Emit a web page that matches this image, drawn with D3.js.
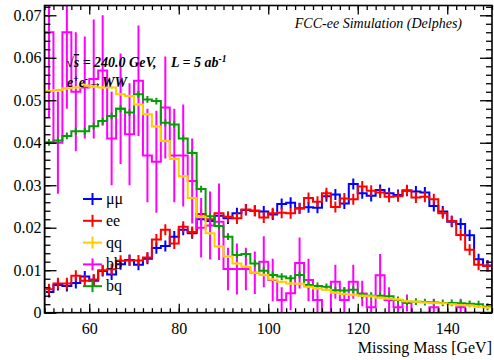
<!DOCTYPE html>
<html>
<head>
<meta charset="utf-8">
<script src="https://cdn.jsdelivr.net/npm/d3@7"></script>
<style>
  html, body { margin: 0; padding: 0; background: #fff; }
  svg { display: block; font-family: "Liberation Serif", "Times New Roman", serif; }
</style>
</head>
<body>
<div id="chart"></div>
<script>
// missing mass histograms, 2 GeV bins from 50 to 150
const binLow = [50, 52, 54, 56, 58, 60, 62, 64, 66, 68, 70, 72, 74, 76, 78, 80, 82, 84, 86, 88,
  90, 92, 94, 96, 98, 100, 102, 104, 106, 108, 110, 112, 114, 116, 118, 120, 122, 124, 126, 128,
  130, 132, 134, 136, 138, 140, 142, 144, 146, 148];
const BIN_WIDTH = 2;

const muMu = [0.0049, 0.0065, 0.0063, 0.0070, 0.0085, 0.0075, 0.0098, 0.0090, 0.0114, 0.0124,
  0.0113, 0.0127, 0.0152, 0.0157, 0.0179, 0.0195, 0.0187, 0.0220, 0.0216, 0.0228,
  0.0222, 0.0234, 0.0242, 0.0240, 0.0238, 0.0231, 0.0256, 0.0259, 0.0246, 0.0248,
  0.0247, 0.0274, 0.0278, 0.0257, 0.0303, 0.0281, 0.0275, 0.0289, 0.0281, 0.0277,
  0.0287, 0.0285, 0.0283, 0.0251, 0.0238, 0.0214, 0.0209, 0.0182, 0.0126, 0.0111];
const ee = [0.0055, 0.0069, 0.0069, 0.0087, 0.0075, 0.0078, 0.0100, 0.0102, 0.0122, 0.0123,
  0.0123, 0.0130, 0.0172, 0.0195, 0.0163, 0.0202, 0.0190, 0.0232, 0.0220, 0.0234,
  0.0226, 0.0222, 0.0243, 0.0240, 0.0224, 0.0234, 0.0235, 0.0234, 0.0245, 0.0270,
  0.0261, 0.0281, 0.0249, 0.0269, 0.0267, 0.0297, 0.0287, 0.0283, 0.0273, 0.0274,
  0.0288, 0.0271, 0.0273, 0.0267, 0.0234, 0.0216, 0.0183, 0.0148, 0.0113, 0.0110];
const qq = [0.0522, 0.0524, 0.0528, 0.0530, 0.0535, 0.0532, 0.0530, 0.0530, 0.0514, 0.0510,
  0.0490, 0.0467, 0.0438, 0.0404, 0.0362, 0.0321, 0.0270, 0.0226, 0.0187, 0.0156,
  0.0132, 0.0116, 0.0108, 0.0094, 0.0089, 0.0078, 0.0073, 0.0069, 0.0068, 0.0061,
  0.0057, 0.0054, 0.0047, 0.0044, 0.0042, 0.0040, 0.0039, 0.0035, 0.0033, 0.0031,
  0.0027, 0.0026, 0.0024, 0.0023, 0.0022, 0.0020, 0.0018, 0.0017, 0.0014, 0.0012];
const bb = [0.0660, 0.0400, 0.0660, 0.0520, 0.0530, 0.0550, 0.0570, 0.0410, 0.0480, 0.0420,
  0.0546, 0.0370, 0.0355, 0.0483, 0.0370, 0.0370, 0.0310, 0.0200, 0.0205, 0.0214,
  0.0103, 0.0103, 0.0103, 0.0094, 0.0120, 0.0077, 0.0030, 0.0046, 0.0117, 0.0077,
  0.0030, 0, 0.0073, 0.0030, 0.0073, 0.0045, 0.0013, 0.0088, 0.0030, 0.0013,
  0.0023, 0, 0, 0.0013, 0, 0, 0.0013, 0, 0, 0];
const bbErr = [0.020, 0.012, 0.018, 0.014, 0.012, 0.014, 0.013, 0.011, 0.013, 0.012,
  0.013, 0.011, 0.012, 0.012, 0.011, 0.012, 0.010, 0.007, 0.008, 0.009,
  0.005, 0.006, 0.005, 0.005, 0.006, 0.005, 0.003, 0.004, 0.006, 0.005,
  0.003, 0, 0.004, 0.003, 0.004, 0.003, 0.002, 0.005, 0.003, 0.002,
  0.002, 0, 0, 0.002, 0, 0, 0.002, 0, 0, 0];
const bq = [0.0401, 0.0405, 0.0416, 0.0427, 0.0427, 0.0439, 0.0451, 0.0463, 0.0480, 0.0471,
  0.0514, 0.0502, 0.0498, 0.0447, 0.0443, 0.0410, 0.0376, 0.0291, 0.0227, 0.0204,
  0.0179, 0.0136, 0.0138, 0.0116, 0.0099, 0.0089, 0.0085, 0.0081, 0.0089, 0.0065,
  0.0063, 0.0061, 0.0053, 0.0052, 0.0054, 0.0041, 0.0040, 0.0040, 0.0039, 0.0030,
  0.0026, 0.0026, 0.0025, 0.0024, 0.0023, 0.0023, 0.0022, 0.0021, 0.0020, 0.0014];

// typical stat. error per bin, read from the cross heights
const muMuErr = 0.0013;
const eeErr = 0.0013;
const qqErr = 0.0003;
const bqErr = 0.0008;

const xTickValues = [60, 80, 100, 120, 140];
const xTickLabels = ['60', '80', '100', '120', '140'];
const yTickValues = [0, 0.01, 0.02, 0.03, 0.04, 0.05, 0.06, 0.07];
const yTickLabels = ['0', '0.01', '0.02', '0.03', '0.04', '0.05', '0.06', '0.07'];

const legendLabels = ['μμ', 'ee', 'qq', 'bb', 'bq'];

const width = 494;
const height = 360;
const frame = { left: 44.5, right: 492, top: 5.5, bottom: 312.7 };

const series = [
  { key: 'mm', values: muMu, errors: binLow.map(() => muMuErr), color: '#0000ff' },
  { key: 'ee', values: ee, errors: binLow.map(() => eeErr), color: '#ff0000' },
  { key: 'bb', values: bb, errors: bbErr, color: '#ff00ff' },
  { key: 'bq', values: bq, errors: binLow.map(() => bqErr), color: '#0a9a0a' },
  { key: 'qq', values: qq, errors: binLow.map(() => qqErr), color: '#ffcc00' },
];
const legendColors = ['#0000ff', '#ff0000', '#ffcc00', '#ff00ff', '#0a9a0a'];

const svg = d3.select('#chart')
  .append('svg')
  .attr('width', width)
  .attr('height', height);

const x = d3.scaleLinear()
  .domain([50, 150])
  .range([frame.left, frame.right]);

const y = d3.scaleLinear()
  .domain([0, 0.0723])
  .range([frame.bottom, frame.top]);

svg.append('clipPath')
  .attr('id', 'plot-clip')
  .append('rect')
  .attr('x', frame.left)
  .attr('y', frame.top)
  .attr('width', frame.right - frame.left)
  .attr('height', frame.bottom - frame.top);

const plot = svg.append('g').attr('clip-path', 'url(#plot-clip)');

// histogram outline, starting and ending at zero
const line = d3.line().x((d) => x(d[0])).y((d) => y(d[1]));
function outline(values) {
  const pts = [[binLow[0], 0]];
  values.forEach((v, i) => {
    pts.push([binLow[i], v]);
    pts.push([binLow[i] + BIN_WIDTH, v]);
  });
  pts.push([binLow[binLow.length - 1] + BIN_WIDTH, 0]);
  return line(pts);
}

series.forEach((s) => {
  const g = plot.append('g');
  g.append('path')
    .attr('d', outline(s.values))
    .attr('fill', 'none')
    .attr('stroke', s.color)
    .attr('stroke-width', 2);

  g.selectAll('line')
    .data(s.values.map((v, i) => ({ v, e: s.errors[i], m: binLow[i] + BIN_WIDTH / 2 }))
      .filter((d) => d.v > 0))
    .enter()
    .append('line')
    .attr('x1', (d) => x(d.m))
    .attr('x2', (d) => x(d.m))
    .attr('y1', (d) => y(d.v - d.e))
    .attr('y2', (d) => y(d.v + d.e))
    .attr('stroke', s.color)
    .attr('stroke-width', 2);
});

// frame
svg.append('rect')
  .attr('x', frame.left)
  .attr('y', frame.top)
  .attr('width', frame.right - frame.left)
  .attr('height', frame.bottom - frame.top)
  .attr('fill', 'none')
  .attr('stroke', '#000')
  .attr('stroke-width', 1.6);

// ticks, ROOT style (inside, on all four sides)
const xMinor = d3.range(50, 151, 2);
const yMinor = d3.range(0, 0.0723, 0.002);

function tickStyle(g) {
  g.select('.domain').remove();
  g.selectAll('.tick line').attr('stroke', '#000').attr('stroke-width', 1.3);
}

svg.append('g')
  .attr('transform', `translate(0,${frame.bottom})`)
  .call(d3.axisBottom(x).tickValues(xMinor).tickSize(-4.5).tickFormat(''))
  .call(tickStyle);
svg.append('g')
  .attr('transform', `translate(0,${frame.bottom})`)
  .call(d3.axisBottom(x).tickValues(xTickValues).tickSize(-9).tickPadding(10)
    .tickFormat((d, i) => xTickLabels[i]))
  .call(tickStyle)
  .call((g) => g.selectAll('text')
    .attr('font-family', '"Liberation Serif", serif')
    .attr('font-size', 16)
    .attr('fill', '#000'));

svg.append('g')
  .attr('transform', `translate(0,${frame.top})`)
  .call(d3.axisTop(x).tickValues(xMinor).tickSize(-4.5).tickFormat(''))
  .call(tickStyle);
svg.append('g')
  .attr('transform', `translate(0,${frame.top})`)
  .call(d3.axisTop(x).tickValues(xTickValues).tickSize(-9).tickFormat(''))
  .call(tickStyle);

svg.append('g')
  .attr('transform', `translate(${frame.left},0)`)
  .call(d3.axisLeft(y).tickValues(yMinor).tickSize(-6).tickFormat(''))
  .call(tickStyle);
svg.append('g')
  .attr('transform', `translate(${frame.left},0)`)
  .call(d3.axisLeft(y).tickValues(yTickValues).tickSize(-12).tickPadding(3)
    .tickFormat((d, i) => yTickLabels[i]))
  .call(tickStyle)
  .call((g) => g.selectAll('text')
    .attr('font-family', '"Liberation Serif", serif')
    .attr('font-size', 16)
    .attr('fill', '#000'));

svg.append('g')
  .attr('transform', `translate(${frame.right},0)`)
  .call(d3.axisRight(y).tickValues(yMinor).tickSize(-6).tickFormat(''))
  .call(tickStyle);
svg.append('g')
  .attr('transform', `translate(${frame.right},0)`)
  .call(d3.axisRight(y).tickValues(yTickValues).tickSize(-12).tickFormat(''))
  .call(tickStyle);

// axis title
svg.append('text')
  .attr('x', frame.right)
  .attr('y', 353)
  .attr('text-anchor', 'end')
  .attr('font-size', 16)
  .text('Missing Mass [GeV]');

// labels
svg.append('text')
  .attr('x', 462)
  .attr('y', 28)
  .attr('text-anchor', 'end')
  .attr('font-size', 14)
  .attr('font-style', 'italic')
  .text('FCC-ee Simulation (Delphes)');

const info = svg.append('g')
  .attr('font-size', 14)
  .attr('font-style', 'italic')
  .attr('font-weight', 'bold');

const sqrtText = info.append('text').attr('x', 66).attr('y', 67);
sqrtText.append('tspan').text('√');
sqrtText.append('tspan').attr('text-decoration', 'overline').text('s');
sqrtText.append('tspan').text(' = 240.0 GeV,');

const lumiText = info.append('text').attr('x', 171).attr('y', 67);
lumiText.append('tspan').text('L = 5 ab');
lumiText.append('tspan').attr('dy', -5).attr('font-size', 9.5).text('-1');

const procText = info.append('text').attr('x', 67).attr('y', 87);
procText.append('tspan').text('e');
procText.append('tspan').attr('dy', -5).attr('font-size', 9.5).text('+');
procText.append('tspan').attr('dy', 5).text('e');
procText.append('tspan').attr('dy', -5).attr('font-size', 9.5).text('-');
procText.append('tspan').attr('dy', 5).text('→WW');

// legend
const LEGEND_TOP = 199;
const LEGEND_STEP = 21.8;
const legend = svg.append('g')
  .selectAll('g')
  .data(legendLabels)
  .enter()
  .append('g')
  .attr('transform', (d, i) => `translate(92.5,${LEGEND_TOP + i * LEGEND_STEP})`);

legend.append('line')
  .attr('x1', -9.5).attr('x2', 9.5)
  .attr('stroke', (d, i) => legendColors[i])
  .attr('stroke-width', 2);
legend.append('line')
  .attr('y1', -6).attr('y2', 6)
  .attr('stroke', (d, i) => legendColors[i])
  .attr('stroke-width', 2);
legend.append('text')
  .attr('x', 13.5)
  .attr('y', 5)
  .attr('font-size', 16)
  .text((d) => d);
</script>
</body>
</html>
